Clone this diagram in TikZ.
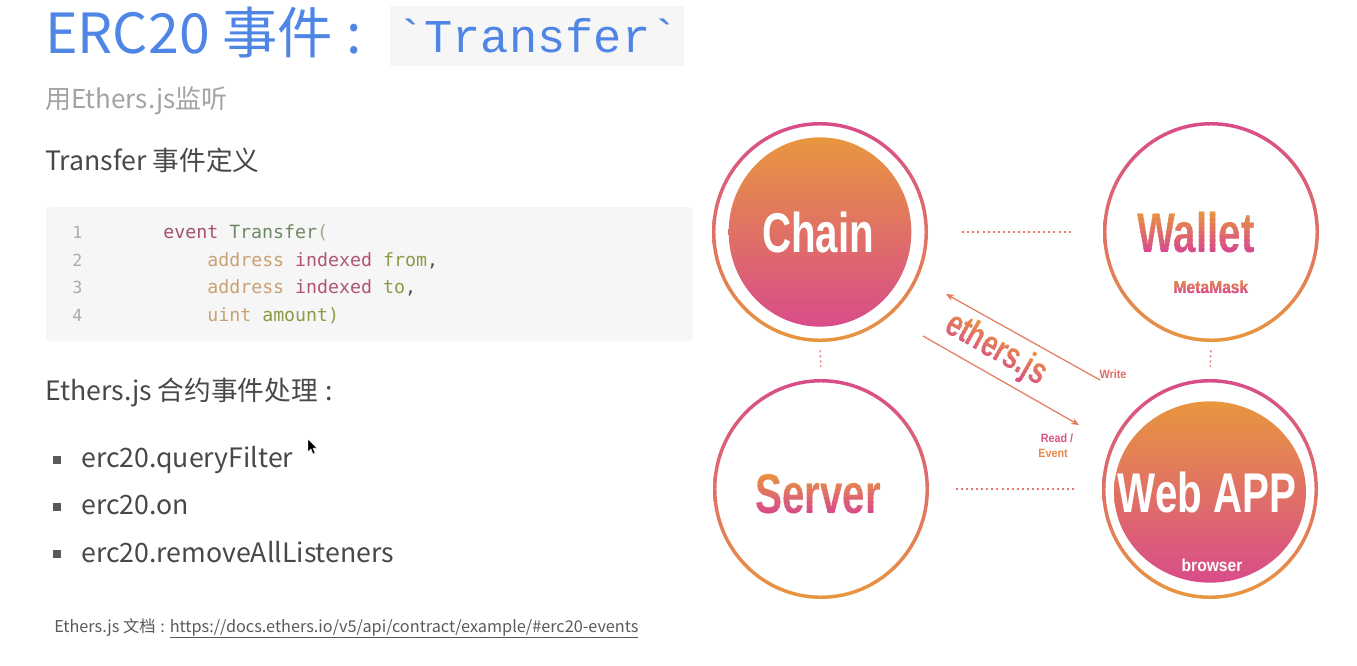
\documentclass[tikz,border=0pt]{standalone}
\usepackage{fontspec}
\setmainfont{Noto Sans CJK SC}
\newfontfamily\monoT{Liberation Mono}
\newfontfamily\codefont{DejaVu Sans Mono}
\newfontfamily\heavy[FakeStretch=0.72]{Liberation Sans}
\newfontfamily\semiheavy[FakeStretch=0.9]{Liberation Sans}
\usetikzlibrary{arrows.meta,shapes.geometric,calc}

\definecolor{titleblue}{HTML}{4F86E6}
\definecolor{subgray}{HTML}{A3A3A3}
\definecolor{bodygray}{HTML}{484848}
\definecolor{footgray}{HTML}{5A5A5A}
\definecolor{codebg}{HTML}{F6F6F6}
\definecolor{lnum}{HTML}{ABABAB}
\definecolor{ckw}{HTML}{A5506E}
\definecolor{ctype}{HTML}{6F8A62}
\definecolor{ctan}{HTML}{C9A273}
\definecolor{cidx}{HTML}{B0566F}
\definecolor{colive}{HTML}{8E9A45}
\definecolor{gOrange}{HTML}{E8963F}
\definecolor{gPink}{HTML}{D84C8A}
\definecolor{linkc}{HTML}{E27B5E}
\definecolor{dotc}{HTML}{E2776B}

% text coloured by a vertical orange-to-pink gradient, built from clipped bands
% #1 name, #2 position, #3 node options, #4 text, #5 half height (px)
\newcommand\gradnode[5]{%
  \foreach \k in {0,...,9}{%
    \pgfmathsetmacro\pct{100-\k*11.1}%
    \colorlet{gc}{gOrange!\pct!gPink}%
    \begin{scope}
      \clip ($#2+(-160,-#5+\k*#5/5-0.6)$) rectangle ($#2+(160,-#5+\k*#5/5+#5/5+0.6)$);
      \node[#3,text=gc] (#1-\k) at #2 {#4};
    \end{scope}}%
}
% a centred colon with room on both sides
\newcommand\wcolon{\hspace{0.3em}:\hspace{0.3em}}

\tikzset{
  ringnode/.style={ellipse,draw=none,inner sep=0pt,minimum width=162pt,minimum height=165pt},
  dotline/.style={dotc,line width=1.1pt,dash pattern=on 1.5pt off 2.3pt},
  arrowline/.style={linkc,line width=0.9pt,-{Stealth[length=6pt,width=5pt]}},
  bigwhite/.style={font=\heavy\bfseries\fontsize{42}{44}\selectfont,text=white,inner sep=0pt},
  biggrad/.style={font=\heavy\bfseries\fontsize{42}{44}\selectfont,inner sep=0pt},
  smalllbl/.style={font=\semiheavy\bfseries\fontsize{9}{10}\selectfont,inner sep=0pt},
  codeline/.style={anchor=base west,inner sep=0pt,font=\codefont\fontsize{13.7}{15}\selectfont},
  numline/.style={anchor=base west,inner sep=0pt,text=lnum,font=\codefont\fontsize{12.5}{15}\selectfont},
  bodytext/.style={anchor=base west,inner sep=0pt,text=bodygray,font=\fontsize{20}{22}\selectfont},
  bulletsq/.style={fill=bodygray!90,minimum size=5.6pt,inner sep=0pt}
}

\begin{document}
\begin{tikzpicture}[x=0.75pt,y=-0.75pt]
\useasboundingbox (0,0) rectangle (1357,665);
\fill[white] (0,0) rectangle (1357,665);

% ---------- heading ----------
\node[anchor=base west,inner sep=0pt,text=titleblue,font=\fontsize{41.5}{46}\selectfont] (title) at (45,53) {ERC20 事件\hspace{0.25em}:};
\fill[codebg] (390,6) rectangle (684,66);
\node[anchor=base west,inner sep=0pt,text=titleblue,font=\monoT\fontsize{35.3}{38}\selectfont] (titlecode) at (396,52) {`Transfer`};
\node[anchor=base west,inner sep=0pt,text=subgray,font=\fontsize{19.5}{21}\selectfont] (subtitle) at (45,108) {用Ethers.js监听};

% ---------- event definition ----------
\node[bodytext] (defhead) at (45,170) {Transfer 事件定义};
\fill[codebg,rounded corners=3pt] (46,207) rectangle (693,341);
\node[numline] (n1) at (72,238) {1};
\node[numline] (n2) at (72,266) {2};
\node[numline] (n3) at (72,293) {3};
\node[numline] (n4) at (72,321) {4};
\node[codeline] (c1) at (163,238) {\textcolor{ckw}{event} \textcolor{ctype}{Transfer}\textcolor{ctype!70}{(}};
\node[codeline] (c2) at (207,266) {\textcolor{ctan}{address} \textcolor{cidx}{indexed} \textcolor{colive}{from}\textcolor{black!70},};
\node[codeline] (c3) at (207,293) {\textcolor{ctan}{address} \textcolor{cidx}{indexed} \textcolor{colive}{to}\textcolor{black!70},};
\node[codeline] (c4) at (207,321) {\textcolor{ctan}{uint} \textcolor{colive}{amount)}};

% ---------- event handling ----------
\node[bodytext] (handlehead) at (45,400) {Ethers.js 合约事件处理\wcolon};
\node[bulletsq] (b1) at (57,460) {};
\node[bulletsq] (b2) at (57,507) {};
\node[bulletsq] (b3) at (57,554) {};
\node[bodytext] (i1) at (81,467) {erc20.queryFilter};
\node[bodytext] (i2) at (81,514) {erc20.on};
\node[bodytext] (i3) at (81,562) {erc20.removeAllListeners};

% mouse pointer
\filldraw[black,draw=white,line width=0.3pt] (308,439) -- (308,452) -- (311,449) -- (313,454) -- (315,453) -- (313,448) -- (317,448) -- cycle;

% ---------- footer ----------
\node[anchor=base west,inner sep=0pt,text=footgray,font=\fontsize{12.2}{14}\selectfont] (foot) at (54,632) {Ethers.js 文档\wcolon\underline{https://docs.ethers.io/v5/api/contract/example/\#erc20-events}};

% ---------- architecture diagram ----------
\node[ringnode] (chain) at (820,232) {};
\node[ringnode] (wallet) at (1211,232) {};
\node[ringnode] (server) at (821,489) {};
\node[ringnode] (webapp) at (1210,489) {};

% outer rings
\foreach \c in {chain,wallet,server,webapp}{
  \shade[top color=gPink,bottom color=gOrange,even odd rule]
    (\c.center) ellipse [x radius=81pt,y radius=82.5pt]
    (\c.center) ellipse [x radius=78.4pt,y radius=79.9pt];
}
% filled cores
\shade[top color=gOrange,bottom color=gPink] (chain.center) ellipse [x radius=68.5pt,y radius=71pt];
\shade[top color=gOrange,bottom color=gPink] ($(webapp.center)+(0,3)$) ellipse [x radius=72pt,y radius=68pt];

% connectors between the four parts
\draw[dotline,shorten <=25.5pt,shorten >=22.5pt] (chain.east) -- (wallet.west);
\draw[dotline,shorten <=20pt,shorten >=21pt] (server.east) -- (webapp.west);
\draw[dotline,shorten <=6pt,shorten >=9pt] (chain.south) -- (server.north);
\draw[dotline,shorten <=6pt,shorten >=9pt] (wallet.south) -- (webapp.north);

% ethers.js read / write arrows
\coordinate (wA) at (1100,380);
\coordinate (wB) at (946,294);
\coordinate (rA) at (923,336);
\coordinate (rB) at (1079,425);
\draw[arrowline] (wA) -- (wB);
\draw[arrowline] (rA) -- (rB);

% labels
\node[bigwhite] (chainlbl) at (818,232) {Chain};
\node[bigwhite] (weblbl) at (1207,492) {Web APP};
\node[smalllbl,text=white,font=\semiheavy\bfseries\fontsize{13}{14}\selectfont] (browserlbl) at (1212,565) {browser};
\gradnode{walletlbl}{(1196,232)}{biggrad}{Wallet}{21}
\gradnode{serverlbl}{(818,494)}{biggrad}{Server}{21}
\gradnode{mmlbl}{(1211,287)}{smalllbl,font=\semiheavy\bfseries\fontsize{13}{14}\selectfont}{MetaMask}{8}
\begin{scope}[shift={(996,350)},rotate=-29.5]
  \gradnode{etherslbl}{(0,0)}{transform shape,font=\heavy\bfseries\fontsize{28}{30}\selectfont,inner sep=0pt}{ethers.js}{20}
\end{scope}
\node[smalllbl,text=gPink!55!gOrange] (writelbl) at (1113,374) {Write};
\node[smalllbl,text=gPink!85!gOrange] (readlbl) at (1057,438) {Read /};
\node[smalllbl,text=gOrange!85!gPink] (eventlbl) at (1053,453) {Event};
\end{tikzpicture}
\end{document}
